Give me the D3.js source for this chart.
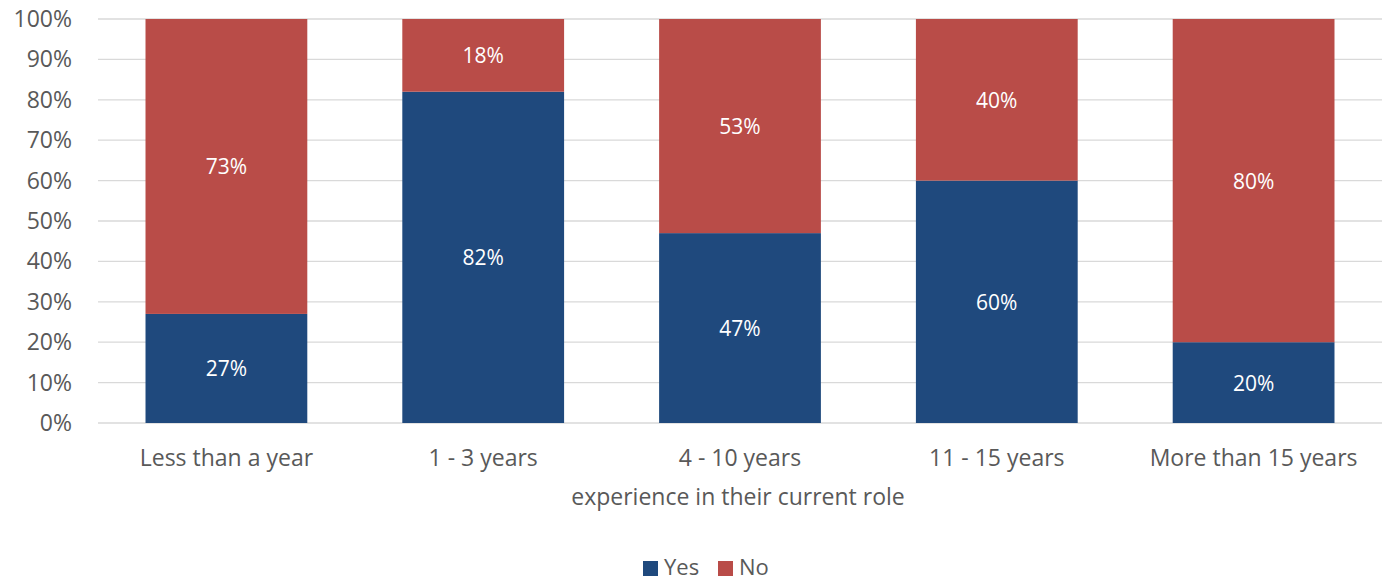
<!DOCTYPE html>
<html><head><meta charset="utf-8">
<script src="https://cdn.jsdelivr.net/npm/d3@7"></script>
<style>body{margin:0;background:#fff;} svg{display:block;} text{font-family:"Open Sans",Lato,sans-serif;}</style>
</head><body><svg id="c" width="1382" height="580"></svg>
<script>
const categories = ["Less than a year","1 - 3 years","4 - 10 years","11 - 15 years","More than 15 years"];
const yesValues = [27,82,47,60,20];
const noValues = [73,18,53,40,80];
const seriesNames = ["Yes","No"];
const seriesColors = ["#1f497d","#b94c48"];
const yTicks = [0,10,20,30,40,50,60,70,80,90,100];
const xTitle = "experience in their current role";

(function(){
const svg = d3.select("#c");
const mLeft = 98, mRight = 1382, mTop = 19, mBottom = 423;
const x = d3.scaleBand().domain(categories).range([mLeft,mRight]).paddingInner(0.37).paddingOuter(0.185);
const y = d3.scaleLinear().domain([0,100]).range([mBottom,mTop]);

svg.append("g").selectAll("line").data(yTicks).join("line")
  .attr("x1",mLeft).attr("x2",mRight).attr("y1",d=>y(d)).attr("y2",d=>y(d))
  .attr("stroke","#d9d9d9").attr("stroke-width",1.3);
svg.append("g").selectAll("text").data(yTicks).join("text")
  .attr("x",72).attr("y",d=>y(d)+8).attr("text-anchor","end")
  .attr("fill","#595959").attr("font-size",23).text(d=>d+"%");

const rows = categories.map((c,i)=>({cat:c,Yes:yesValues[i],No:noValues[i]}));
const stack = d3.stack().keys(seriesNames)(rows);
const g = svg.append("g");
stack.forEach((s,si)=>{
  g.append("g").selectAll("rect").data(s).join("rect")
    .attr("x",d=>x(d.data.cat)).attr("width",x.bandwidth())
    .attr("y",d=>y(d[1])).attr("height",d=>y(d[0])-y(d[1]))
    .attr("fill",seriesColors[si]);
  g.append("g").selectAll("text").data(s).join("text")
    .attr("x",d=>x(d.data.cat)+x.bandwidth()/2).attr("y",d=>y((d[0]+d[1])/2)+8)
    .attr("text-anchor","middle").attr("fill","#fff").attr("font-size",21)
    .text(d=>(d[1]-d[0])+"%");
});

svg.append("g").selectAll("text").data(categories).join("text")
  .attr("x",d=>x(d)+x.bandwidth()/2).attr("y",466).attr("text-anchor","middle")
  .attr("fill","#595959").attr("font-size",23).text(d=>d);
svg.append("text").attr("x",(mLeft+mRight)/2 - 2).attr("y",505).attr("text-anchor","middle")
  .attr("fill","#595959").attr("font-size",23).text(xTitle);

const leg = svg.append("g");
const legX = [643,718];
seriesNames.forEach((n,i)=>{
  leg.append("rect").attr("x",legX[i]).attr("y",561).attr("width",15).attr("height",15).attr("fill",seriesColors[i]);
  leg.append("text").attr("x",legX[i]+21).attr("y",575).attr("fill","#595959").attr("font-size",22).text(n);
});
})();
</script></body></html>
